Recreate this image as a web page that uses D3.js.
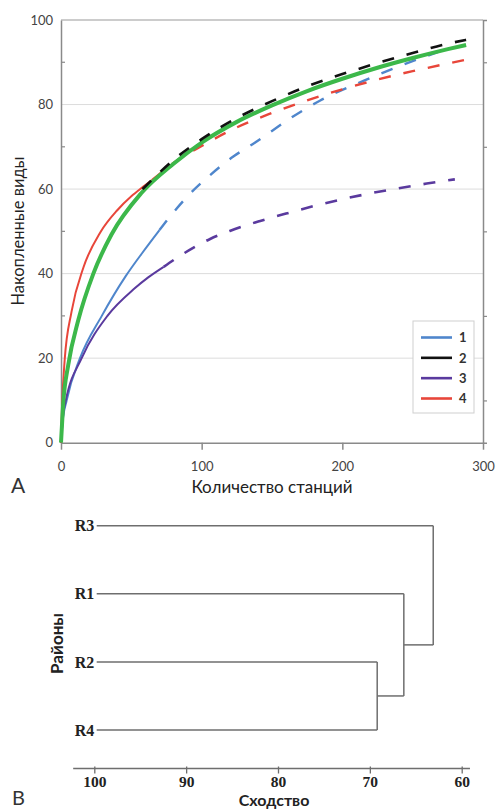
<!DOCTYPE html>
<html><head><meta charset="utf-8">
<script src="https://cdn.jsdelivr.net/npm/d3@7"></script>
<style>body{margin:0;background:#fff}svg{display:block}</style>
</head><body><svg id="c" width="497" height="810"></svg>
<script>
// ---------- Panel A data ----------
const xTicksA = [0, 100, 200, 300];
const yTicksA = [0, 20, 40, 60, 80, 100];
const yMinorA = [10, 30, 50, 70, 90];
const legendLabels = ["1", "2", "3", "4"];
const legendColors = ["#4f86cc", "#111111", "#5a3a9e", "#e8463a"];

// series 1 (blue)
const s1Solid  = [[0,0],[1,4.5],[4,10],[13.5,20],[29,30],[46,39.4],[58,45],[70,50.3]];
const s1Dashed = [[70,50.3],[77.5,53.5],[92,59],[106,63.3],[122.5,67.7],[137,70.8],[167,77.6],[184,80.9],[215,85.6],[243,89.4],[268,92.4]];
// series 2 (black)
const s2Dashed = [[58,60],[70,63.9],[80,66.9],[100,71.8],[125,76.8],[150,80.8],[175,84.3],[200,87.2],[225,89.8],[250,92.2],[275,94.4],[288,95.3]];
// series 3 (purple)
const s3Solid  = [[0,0],[1.7,7],[3.4,10],[14.7,20],[33,30],[52,36.4],[62,39.1],[73,41.6]];
const s3Dashed = [[73,41.6],[86,44.5],[106,48.2],[120,50.1],[141,52.4],[160,54.2],[180,56],[200,57.6],[220,59],[240,60.2],[260,61.3],[280,62.3]];
// series 4 (red)
const s4Solid  = [[0,0],[0.8,9],[2.6,19.5],[7.5,31],[16,41.5],[28,49.8],[40,55],[50,58.3],[57,60.2],[65,62.2]];
const s4Dashed = [[65,62.2],[80,66.2],[100,70.2],[125,74.6],[150,78],[175,81],[200,83.6],[225,85.9],[250,87.9],[275,89.7],[288,90.6]];
// total (green)
const sTotal   = [[0,0],[1.5,9],[5.2,18.5],[12.3,29],[23,40],[36,49.3],[57,59],[80,66],[100,71],[125,75.9],[150,79.8],[175,83.2],[200,86.1],[225,88.7],[250,91],[275,93.1],[288,94.1]];

// ---------- Panel B data ----------
const leafNames = ["R3", "R1", "R2", "R4"];
const xTicksB = [100, 90, 80, 70, 60];
const mergeR2R4 = 69.2, mergeR1 = 66.3, mergeR3 = 63.1;

const svg = d3.select("#c");
const sans = "Lato, 'Open Sans', sans-serif";
const serif = "'Liberation Serif', 'DejaVu Serif', serif";

// ================= Panel A =================
const x = d3.scaleLinear([0, 300], [61, 483]);
const y = d3.scaleLinear([0, 100], [442.7, 20]);

svg.append("g").selectAll("line").data(yTicksA.filter(v => v > 0 && v < 100)).join("line")
  .attr("x1", x(0)).attr("x2", x(300)).attr("y1", d => y(d)).attr("y2", d => y(d))
  .attr("stroke", "#dcdcdc").attr("stroke-width", 1);
svg.append("line").attr("x1", x(0)).attr("x2", x(300)).attr("y1", y(100)).attr("y2", y(100))
  .attr("stroke", "#9a9a9a").attr("stroke-width", 1.2);

const gl = svg.append("g").attr("transform", `translate(${x(0)},0)`)
  .call(d3.axisLeft(y).tickValues(yTicksA).tickSize(0).tickPadding(8));
gl.select(".domain").attr("stroke", "#8a8a8a").attr("stroke-width", 1.5);
gl.selectAll("text").attr("font-family", sans).attr("font-size", 13).attr("fill", "#444");
svg.append("g").selectAll("line").data(yMinorA).join("line")
  .attr("x1", x(0)).attr("x2", x(0) + 4).attr("y1", d => y(d)).attr("y2", d => y(d))
  .attr("stroke", "#8a8a8a").attr("stroke-width", 1.2);

const gr = svg.append("g").attr("transform", `translate(${x(300)},0)`)
  .call(d3.axisRight(y).tickValues(yMinorA).tickSize(4).tickFormat(""));
gr.select(".domain").attr("stroke", "#8a8a8a").attr("stroke-width", 1.5);
gr.selectAll(".tick line").attr("stroke", "#8a8a8a").attr("stroke-width", 1.2);

const gb = svg.append("g").attr("transform", `translate(0,${y(0)})`)
  .call(d3.axisBottom(x).tickValues(xTicksA).tickSize(7).tickPadding(12).tickSizeOuter(0));
gb.select(".domain").attr("stroke", "#8a8a8a").attr("stroke-width", 1.5);
gb.selectAll(".tick line").attr("stroke", "#8a8a8a").attr("stroke-width", 1.5);
gb.selectAll("text").attr("font-family", sans).attr("font-size", 13).attr("fill", "#444");

const line = d3.line().x(d => x(d[0])).y(d => y(d[1])).curve(d3.curveMonotoneX);
const dash = "12,13";
const curves = [
  {d: s1Solid,  c: legendColors[0], w: 2,   dash: null},
  {d: s1Dashed, c: legendColors[0], w: 2.4, dash: dash},
  {d: s3Solid,  c: legendColors[2], w: 2,   dash: null},
  {d: s3Dashed, c: legendColors[2], w: 2.6, dash: dash},
  {d: s4Solid,  c: legendColors[3], w: 2,   dash: null},
  {d: s4Dashed, c: legendColors[3], w: 2.4, dash: dash},
  {d: sTotal,   c: "#3cb84a",       w: 4,   dash: null},
  {d: s2Dashed, c: legendColors[1], w: 2.6, dash: dash}
];
svg.append("g").selectAll("path").data(curves).join("path")
  .attr("d", d => line(d.d)).attr("fill", "none")
  .attr("stroke", d => d.c).attr("stroke-width", d => d.w)
  .attr("stroke-dasharray", d => d.dash);

const lg = svg.append("g");
lg.append("rect").attr("x", 413).attr("y", 321).attr("width", 61).attr("height", 92)
  .attr("fill", "#fff").attr("stroke", "#cfcfcf").attr("stroke-width", 1);
const ly = d3.scalePoint(legendLabels, [337.5, 398.5]);
lg.selectAll("line").data(legendLabels).join("line")
  .attr("x1", 421).attr("x2", 452).attr("y1", d => ly(d)).attr("y2", d => ly(d))
  .attr("stroke", (d, i) => legendColors[i]).attr("stroke-width", 2.6);
lg.selectAll("text").data(legendLabels).join("text")
  .attr("x", 459).attr("y", d => ly(d)).attr("dy", "0.36em")
  .attr("font-family", sans).attr("font-size", 13).attr("font-weight", "bold").attr("fill", "#333")
  .text(d => d);

svg.append("text").attr("x", (x(0) + x(300)) / 2).attr("y", 493).attr("text-anchor", "middle")
  .attr("font-family", sans).attr("font-size", 17).attr("fill", "#222").text("Количество станций");
svg.append("text").attr("transform", "translate(24,231) rotate(-90)").attr("text-anchor", "middle")
  .attr("font-family", sans).attr("font-size", 16.5).attr("fill", "#222").text("Накопленные виды");
svg.append("text").attr("x", 11).attr("y", 493)
  .attr("font-family", sans).attr("font-size", 21).attr("fill", "#333").text("A");

// ================= Panel B =================
const xb = d3.scaleLinear([100, 60], [94.3, 461.7]);
const yb = d3.scalePoint(leafNames, [525.7, 730]);
const treeData = {h: mergeR3, children: [
  {name: "R3", h: 100},
  {h: mergeR1, children: [
    {name: "R1", h: 100},
    {h: mergeR2R4, children: [{name: "R2", h: 100}, {name: "R4", h: 100}]}
  ]}
]};
const root = d3.hierarchy(treeData);
root.eachAfter(n => {
  n.py = n.children ? d3.mean(n.children, c => c.py) : yb(n.data.name);
  n.px = n.children ? xb(n.data.h) : xb(100) + 2.4;
});
const gd = svg.append("g").attr("stroke", "#6e6e6e").attr("stroke-width", 1.5).attr("fill", "none");
root.descendants().filter(n => n.children).forEach(n => {
  gd.append("line").attr("x1", n.px).attr("x2", n.px)
    .attr("y1", d3.min(n.children, c => c.py)).attr("y2", d3.max(n.children, c => c.py));
  n.children.forEach(c => {
    gd.append("line").attr("x1", c.px).attr("x2", n.px).attr("y1", c.py).attr("y2", c.py);
  });
});
svg.append("g").selectAll("text").data(root.leaves()).join("text")
  .attr("x", xb(100)).attr("y", d => d.py).attr("dy", "0.35em").attr("text-anchor", "end")
  .attr("font-family", serif).attr("font-weight", "bold").attr("font-size", 16).attr("fill", "#222")
  .text(d => d.data.name);

const gab = svg.append("g").attr("transform", "translate(0,768.5)")
  .call(d3.axisBottom(xb).tickValues(xTicksB).tickSize(5).tickPadding(2).tickSizeOuter(0));
gab.select(".domain").remove();
gab.append("line").attr("x1", xb(102.3)).attr("x2", xb(59.1)).attr("y1", 0).attr("y2", 0)
  .attr("stroke", "#6e6e6e").attr("stroke-width", 1.3);
gab.selectAll(".tick line").attr("y1", -2).attr("stroke", "#6e6e6e").attr("stroke-width", 1.3);
gab.selectAll("text").attr("font-family", serif).attr("font-weight", "bold").attr("font-size", 15.5).attr("fill", "#222");

svg.append("text").attr("x", 274).attr("y", 806).attr("text-anchor", "middle")
  .attr("font-family", sans).attr("font-weight", "bold").attr("font-size", 16).attr("fill", "#222").text("Сходство");
svg.append("text").attr("transform", "translate(63,643.5) rotate(-90)").attr("text-anchor", "middle")
  .attr("font-family", sans).attr("font-weight", "bold").attr("font-size", 17).attr("fill", "#222").text("Районы");
svg.append("text").attr("x", 12).attr("y", 805)
  .attr("font-family", sans).attr("font-size", 20).attr("fill", "#333").text("B");
</script></body></html>
